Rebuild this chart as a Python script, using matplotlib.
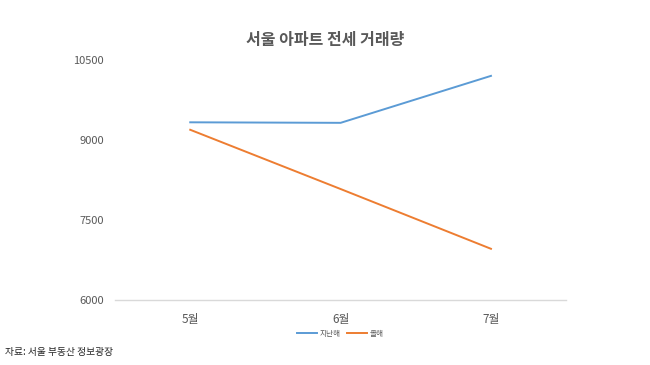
import matplotlib.pyplot as plt

plt.rcParams['font.family'] = ['Noto Sans CJK KR', 'DejaVu Sans']

months = ['5월', '6월', '7월']
last_year = [9330, 9320, 10200]
this_year = [9190, 8080, 6960]
series_names = ['지난해', '올해']
y_ticks = [6000, 7500, 9000, 10500]

fig = plt.figure(figsize=(6.5, 3.65), dpi=100)
ax = fig.add_axes([0.177, 0.178, 0.694, 0.658])

x = range(len(months))
ax.plot(x, last_year, color='#5B9BD5', lw=1.4, label=series_names[0])
ax.plot(x, this_year, color='#ED7D31', lw=1.4, label=series_names[1])

ax.set_xlim(-0.5, len(months) - 0.5)
ax.set_ylim(6000, 10500)
ax.set_yticks(y_ticks)
ax.set_xticks(list(x))
ax.set_xticklabels(months)
ax.tick_params(axis='y', length=0, labelsize=8, colors='#595959', pad=8)
ax.tick_params(axis='x', length=0, labelsize=8.5, colors='#595959', pad=9)

for s in ['top', 'right', 'left']:
    ax.spines[s].set_visible(False)
ax.spines['bottom'].set_color('#d9d9d9')
ax.spines['bottom'].set_linewidth(1)

fig.text(0.5, 0.89, '서울 아파트 전세 거래량', ha='center', va='center',
         fontsize=11.5, fontweight='bold', color='#595959')

ax.legend(loc='upper center', bbox_to_anchor=(0.5, -0.095), ncol=2, frameon=False,
          fontsize=5.5, labelcolor='#595959', handlelength=2.6, columnspacing=0.8,
          handletextpad=0.4)

fig.text(0.008, 0.035, '자료: 서울 부동산 정보광장', ha='left', va='center',
         fontsize=7, color='#222222')

fig.savefig('out.png', dpi=100, facecolor='white')
